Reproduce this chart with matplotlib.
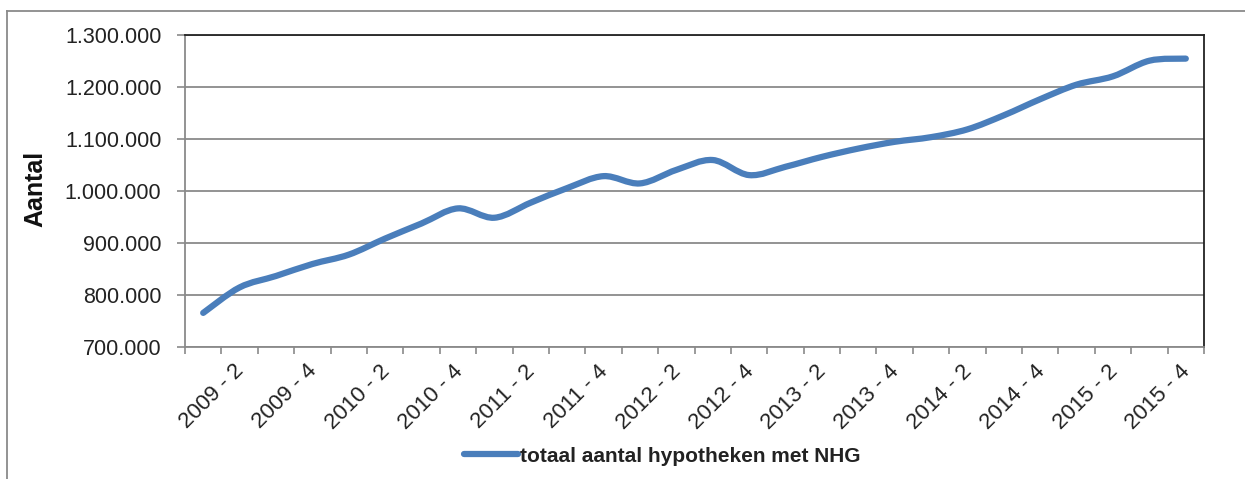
import matplotlib
matplotlib.use("Agg")
import matplotlib.pyplot as plt
from matplotlib.path import Path
from matplotlib.patches import PathPatch
from matplotlib.lines import Line2D
from matplotlib.ticker import FuncFormatter, FixedLocator
from matplotlib.transforms import ScaledTranslation
import numpy as np

plt.rcParams['font.family'] = ['Liberation Sans', 'DejaVu Sans']

quarters = [f"{y} - {q}" for y in range(2009, 2016) for q in range(1, 5)]
values = [765000, 814000, 836000, 859000, 877000, 908000, 937000,
          966000, 948000, 977000, 1005000, 1028000, 1014000, 1040000,
          1059000, 1030000, 1046000, 1065000, 1081000, 1094000, 1103000,
          1118000, 1145000, 1176000, 1204000, 1220000, 1250000, 1254000]
series_name = "totaal aantal hypotheken met NHG"
y_ticks = [700000, 800000, 900000, 1000000, 1100000, 1200000, 1300000]
y_label = "Aantal"

W, H = 1245, 479
fig = plt.figure(figsize=(W/100, H/100), dpi=100)
ax = fig.add_axes([185/W, 1-346.7/H, (1204-185)/W, (346.7-34.7)/H])

x = np.arange(len(values), dtype=float)
y = np.array(values, dtype=float)

# Excel-like smoothed line (cubic Bezier through data points)
verts = [(x[0], y[0])]
codes = [Path.MOVETO]
n = len(x)
for i in range(n-1):
    p0 = np.array([x[max(i-1, 0)], y[max(i-1, 0)]])
    p1 = np.array([x[i], y[i]])
    p2 = np.array([x[i+1], y[i+1]])
    p3 = np.array([x[min(i+2, n-1)], y[min(i+2, n-1)]])
    c1 = p1 + (p2 - p0) / 6.0
    c2 = p2 - (p3 - p1) / 6.0
    verts += [tuple(c1), tuple(c2), tuple(p2)]
    codes += [Path.CURVE4] * 3
path = Path(verts, codes)
line_color = '#4a7ebb'
ax.add_patch(PathPatch(path, fill=False, edgecolor=line_color, lw=4.5,
                       capstyle='round', joinstyle='round', zorder=3))

ax.set_xlim(-0.5, n-0.5)
ax.set_ylim(y_ticks[0], y_ticks[-1])

ax.yaxis.set_major_locator(FixedLocator(y_ticks))
ax.yaxis.set_major_formatter(FuncFormatter(lambda v, p: f"{int(round(v)):,}".replace(',', '.')))
ax.grid(axis='y', color='#8a8a8a', lw=1.3, zorder=1)
ax.set_axisbelow(True)

major_pos = list(range(1, n, 2))
ax.set_xticks(major_pos)
ax.set_xticklabels([quarters[i] for i in major_pos], rotation=45, ha='right',
                   va='top', rotation_mode='anchor')
ax.set_xticks(np.arange(-0.5, n, 1.0), minor=True)
ax.tick_params(axis='x', which='major', length=0, pad=10, labelsize=16, colors='#222222')
ax.tick_params(axis='x', which='minor', length=5, width=1.2, color='#8a8a8a', direction='out')
ax.tick_params(axis='y', length=6, width=1.2, color='#8a8a8a', labelsize=15.5, pad=11,
               labelcolor='#222222')
shift = ScaledTranslation(-0.06, 0, fig.dpi_scale_trans)
for lab in ax.get_xticklabels():
    lab.set_transform(lab.get_transform() + shift)

for s in ['left', 'bottom']:
    ax.spines[s].set_color('#8a8a8a')
    ax.spines[s].set_linewidth(1.3)
for s in ['top', 'right']:
    ax.spines[s].set_color('#222222')
    ax.spines[s].set_linewidth(1.3)

fig.text(35/W, 1-189/H, y_label, rotation=90, ha='center', va='center',
         fontsize=18, fontweight='bold', color='#111111')

handle = Line2D([], [], color=line_color, lw=4.5, solid_capstyle='round')
fig.legend([handle], [series_name], loc='center', bbox_to_anchor=(662/W, 1-456/H),
           frameon=False, handlelength=2.6, handletextpad=0.1,
           prop={'size': 15, 'weight': 'bold'}, labelcolor='#222222')

# outer chart frame
fig.add_artist(Line2D([7/W, 7/W], [0, 1-11/H], transform=fig.transFigure,
                      color='#8a8a8a', lw=1.3))
fig.add_artist(Line2D([7/W, 1], [1-11/H, 1-11/H], transform=fig.transFigure,
                      color='#8a8a8a', lw=1.3))

fig.savefig("out.png", dpi=100)
